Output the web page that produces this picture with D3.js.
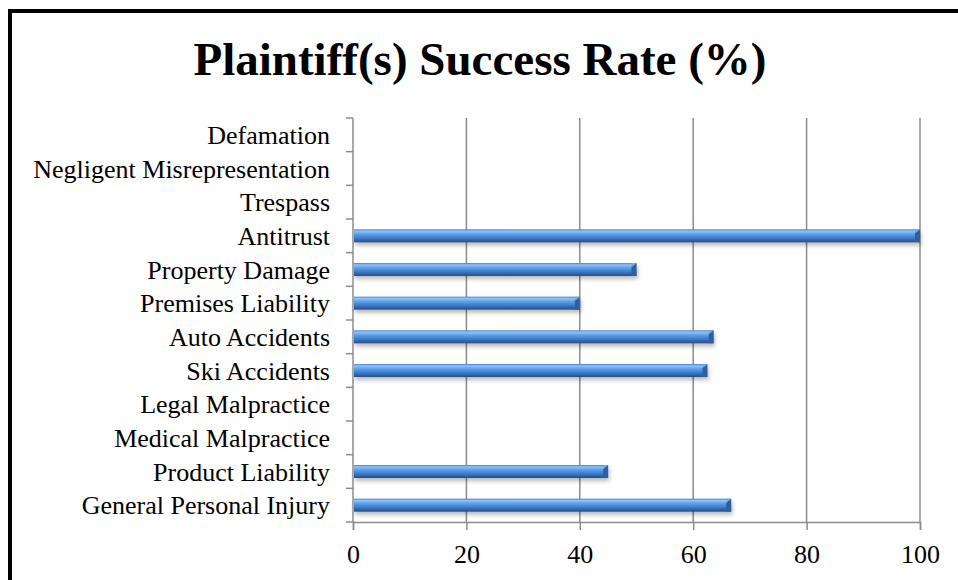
<!DOCTYPE html>
<html>
<head>
<meta charset="utf-8">
<script src="https://cdn.jsdelivr.net/npm/d3@7"></script>
<style>
  body { margin: 0; background: #fff; }
  svg { display: block; }
</style>
</head>
<body>
<div id="chart"></div>
<script>
// Categories listed bottom to top, as in the chart
const categories = [
  "General Personal Injury", "Product Liability", "Medical Malpractice",
  "Legal Malpractice", "Ski Accidents", "Auto Accidents", "Premises Liability",
  "Property Damage", "Antitrust", "Trespass", "Negligent Misrepresentation", "Defamation"
];
const successRate = [66.7, 45, 0, 0, 62.5, 63.6, 40, 50, 100, 0, 0, 0];
const xTicks = [0, 20, 40, 60, 80, 100];

const width = 958, height = 580;
const plot = { left: 353, right: 920, top: 118, bottom: 522 };
const axisColor = "#8c8c8c";
const font = "'Liberation Serif', 'Times New Roman', serif";

const svg = d3.select("#chart").append("svg")
  .attr("width", width)
  .attr("height", height);

// Bar gradient + shadow
const defs = svg.append("defs");
const grad = defs.append("linearGradient")
  .attr("id", "barGrad").attr("x1", 0).attr("y1", 0).attr("x2", 0).attr("y2", 1);
grad.append("stop").attr("offset", "0%").attr("stop-color", "#4a80c4");
grad.append("stop").attr("offset", "14%").attr("stop-color", "#8cc4fa");
grad.append("stop").attr("offset", "38%").attr("stop-color", "#5a9fea");
grad.append("stop").attr("offset", "70%").attr("stop-color", "#3b76c4");
grad.append("stop").attr("offset", "100%").attr("stop-color", "#264d80");

const shadow = defs.append("filter").attr("id", "shadow")
  .attr("x", "-5%").attr("y", "-50%").attr("width", "110%").attr("height", "250%");
shadow.append("feDropShadow")
  .attr("dx", 1).attr("dy", 3).attr("stdDeviation", 2)
  .attr("flood-color", "#000").attr("flood-opacity", 0.28);

// Outer frame
svg.append("rect")
  .attr("x", 10).attr("y", 11)
  .attr("width", width + 20).attr("height", height + 20)
  .attr("fill", "none").attr("stroke", "#000").attr("stroke-width", 4);

// Title
svg.append("text")
  .attr("x", 480).attr("y", 75)
  .attr("text-anchor", "middle")
  .style("font-family", font)
  .style("font-weight", "bold")
  .style("font-size", "47px")
  .text("Plaintiff(s) Success Rate (%)");

const x = d3.scaleLinear().domain([0, 100]).range([plot.left, plot.right]);
const y = d3.scaleBand().domain(categories).range([plot.bottom, plot.top]);

// Vertical gridlines
svg.append("g").selectAll("line")
  .data(xTicks.slice(1))
  .enter().append("line")
  .attr("x1", d => x(d)).attr("x2", d => x(d))
  .attr("y1", plot.top).attr("y2", plot.bottom)
  .attr("stroke", axisColor).attr("stroke-width", 1.5);

// Bottom axis
const xAxis = svg.append("g")
  .attr("transform", `translate(0,${plot.bottom})`)
  .call(d3.axisBottom(x).tickValues(xTicks).tickSize(8));
xAxis.select(".domain").attr("stroke", axisColor).attr("stroke-width", 1.5);
xAxis.selectAll(".tick line").attr("stroke", axisColor).attr("stroke-width", 1.5);
xAxis.selectAll(".tick text")
  .attr("y", 41).attr("dy", 0)
  .style("font-family", font).style("font-size", "26px").attr("fill", "#000");

// Bars
const barH = 13;
const bars = svg.append("g").selectAll("g")
  .data(categories.map((c, i) => ({ cat: c, value: successRate[i] })).filter(d => d.value > 0))
  .enter().append("g")
  .attr("filter", "url(#shadow)");

bars.append("rect")
  .attr("x", x(0) + 1)
  .attr("y", d => y(d.cat) + y.bandwidth() / 2 - barH / 2)
  .attr("width", d => x(d.value) - x(0) - 1)
  .attr("height", barH)
  .attr("fill", "url(#barGrad)");

// bevelled right end
bars.append("path")
  .attr("d", d => {
    const x1 = x(d.value), y0 = y(d.cat) + y.bandwidth() / 2 - barH / 2;
    return `M${x1 - 5},${y0 + 4} L${x1},${y0} L${x1},${y0 + barH} L${x1 - 5},${y0 + barH} Z`;
  })
  .attr("fill", "#2f5f9f");
bars.append("path")
  .attr("d", d => {
    const x1 = x(d.value), y0 = y(d.cat) + y.bandwidth() / 2 - barH / 2;
    return `M${x1 - 5},${y0 + 4} L${x1},${y0} L${x1 - 5},${y0} Z`;
  })
  .attr("fill", "#6aa8ee");

// Left axis: ticks at category boundaries
const boundaries = d3.range(categories.length + 1).map(i => plot.bottom - i * y.step());
const yAxis = svg.append("g");
yAxis.append("line")
  .attr("x1", plot.left).attr("x2", plot.left)
  .attr("y1", plot.top).attr("y2", plot.bottom)
  .attr("stroke", axisColor).attr("stroke-width", 1.5);
yAxis.selectAll("line.tick")
  .data(boundaries)
  .enter().append("line")
  .attr("class", "tick")
  .attr("x1", plot.left - 7).attr("x2", plot.left)
  .attr("y1", d => d).attr("y2", d => d)
  .attr("stroke", axisColor).attr("stroke-width", 1.5);

svg.append("g").selectAll("text")
  .data(categories)
  .enter().append("text")
  .attr("x", 330)
  .attr("y", d => y(d) + y.bandwidth() / 2)
  .attr("dy", "0.35em")
  .attr("text-anchor", "end")
  .style("font-family", font)
  .style("font-size", "26px")
  .text(d => d);
</script>
</body>
</html>
